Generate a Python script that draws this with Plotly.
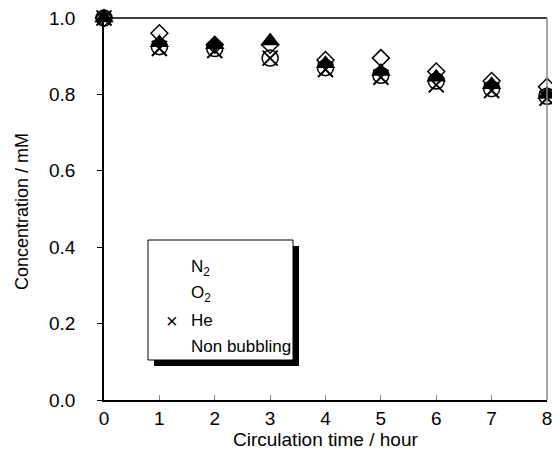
import plotly.graph_objects as go

hours = [0, 1, 2, 3, 4, 5, 6, 7, 8]
n2 = [1.0, 0.96, 0.93, 0.93, 0.89, 0.895, 0.86, 0.835, 0.82]
o2 = [1.0, 0.935, 0.93, 0.94, 0.88, 0.86, 0.845, 0.825, 0.80]
he = [1.0, 0.92, 0.915, 0.895, 0.865, 0.845, 0.825, 0.81, 0.79]
nonbub = [1.0, 0.925, 0.92, 0.895, 0.87, 0.85, 0.835, 0.815, 0.795]
x_ticks = [0, 1, 2, 3, 4, 5, 6, 7, 8]
y_ticks = [0.0, 0.2, 0.4, 0.6, 0.8, 1.0]
y_tick_text = ["0.0", "0.2", "0.4", "0.6", "0.8", "1.0"]
legend_labels = ["N<sub>2</sub>", "O<sub>2</sub>", "He", "Non bubbling"]
x_title = "Circulation time / hour"
y_title = "Concentration / mM"

FONT = "Liberation Sans, Arial, sans-serif"
OFF = 8  # page body margin offset
# plot area in reference-window pixels
PX0, PX1, PY0, PY1 = 104, 547, 18, 400
W, H = 560 - OFF, 472 - OFF
L, T = PX0 - OFF, PY0 - OFF
R, B = W - (PX1 - OFF), H - (PY1 - OFF)
PW, PH = PX1 - PX0, PY1 - PY0

def px_x(p):
    return (p - PX0) / PW

def px_y(p):
    return (PY1 - p) / PH

fig = go.Figure()
fig.add_trace(go.Scatter(x=hours, y=nonbub, mode="markers", name="Non bubbling",
                         marker=dict(symbol="circle-open", size=16, color="black", line=dict(width=1.5))))
fig.add_trace(go.Scatter(x=hours, y=he, mode="markers", name="He",
                         marker=dict(symbol="x-thin-open", size=15, color="black", line=dict(width=2))))
fig.add_trace(go.Scatter(x=hours, y=o2, mode="markers", name="O2",
                         marker=dict(symbol="triangle-up", size=17, color="black")))
fig.add_trace(go.Scatter(x=hours, y=n2, mode="markers", name="N2",
                         marker=dict(symbol="diamond-open", size=13, color="black", line=dict(width=1.5))))

# manual legend box with shadow
lx0, lx1, ly0, ly1 = px_x(148), px_x(293), px_y(360), px_y(240)
dx, dy = 6 / PW, 6 / PH
fig.add_shape(type="rect", xref="paper", yref="paper", x0=lx0 + dx, x1=lx1 + dx, y0=ly0 - dy, y1=ly1 - dy,
              fillcolor="black", line=dict(width=0), layer="above")
fig.add_shape(type="rect", xref="paper", yref="paper", x0=lx0, x1=lx1, y0=ly0, y1=ly1,
              fillcolor="white", line=dict(color="black", width=1), layer="above")
label_y_px = [268, 294, 320, 346]
for lab, ypx in zip(legend_labels, label_y_px):
    fig.add_annotation(xref="paper", yref="paper", x=px_x(189), y=px_y(ypx),
                       text=lab, showarrow=False, xanchor="left", yanchor="middle",
                       font=dict(family=FONT, size=17, color="black"))
fig.add_annotation(xref="paper", yref="paper", x=px_x(172), y=px_y(321),
                   text="×", showarrow=False, xanchor="center", yanchor="middle",
                   font=dict(family=FONT, size=20, color="black"))

# axis titles
fig.add_annotation(xref="paper", yref="paper", x=px_x(325), y=px_y(440), text=x_title,
                   showarrow=False, xanchor="center", yanchor="middle",
                   font=dict(family=FONT, size=19, color="black"))
fig.add_annotation(xref="paper", yref="paper", x=px_x(22), y=px_y(212), text=y_title,
                   showarrow=False, xanchor="center", yanchor="middle", textangle=-90,
                   font=dict(family=FONT, size=18, color="black"))

# top and right frame lines
fig.add_shape(type="line", xref="paper", yref="paper", x0=0, x1=1, y0=1, y1=1,
              line=dict(color="black", width=1.5))
fig.add_shape(type="line", xref="paper", yref="paper", x0=1, x1=1, y0=0, y1=1,
              line=dict(color="#888888", width=1.5))

fig.update_layout(
    width=W, height=H,
    margin=dict(l=L, r=R, t=T, b=B),
    plot_bgcolor="white", paper_bgcolor="white",
    showlegend=False,
    font=dict(family=FONT, size=19, color="black"),
    xaxis=dict(range=[0, 8], tickvals=x_ticks, ticks="inside", ticklen=5, tickcolor="#888888",
               showline=True, linecolor="black", linewidth=1.5, showgrid=False, zeroline=False,
               automargin=False, tickfont=dict(size=19), ticklabeloverflow="allow"),
    yaxis=dict(range=[0, 1.0], tickvals=y_ticks, ticktext=y_tick_text,
               ticks="outside", ticklen=5, tickcolor="black", ticklabelstandoff=18,
               showline=True, linecolor="black", linewidth=1.5, showgrid=False, zeroline=False,
               automargin=False, tickfont=dict(size=19), ticklabeloverflow="allow"),
)
for tr in fig.data:
    tr.cliponaxis = False

fig.write_html("out.html")
